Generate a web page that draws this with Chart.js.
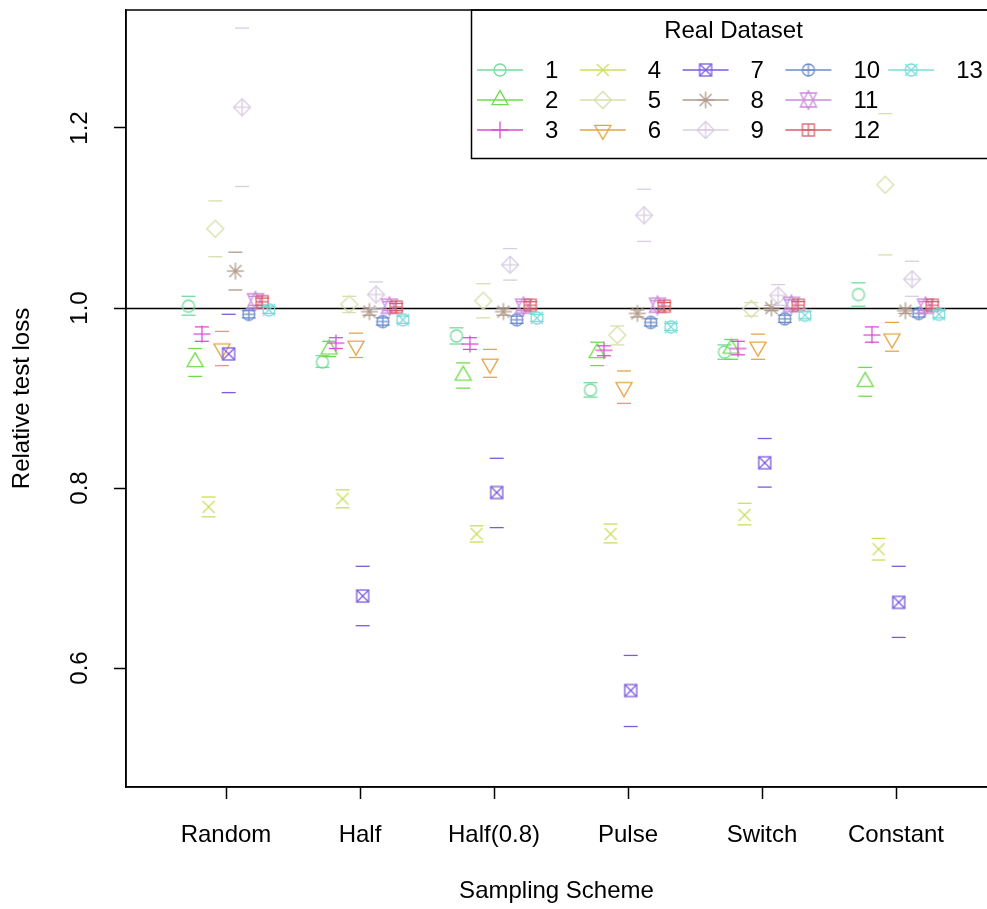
<!DOCTYPE html>
<html>
<head>
<meta charset="utf-8">
<script src="https://cdn.jsdelivr.net/npm/chart.js@4.4.1/dist/chart.umd.min.js"></script>
<style>
  html, body { margin: 0; padding: 0; background: #fff; }
</style>
</head>
<body>
<canvas id="chart" width="987" height="909"></canvas>
<script>
// ---------- data ----------
const schemes = ['Random', 'Half', 'Half(0.8)', 'Pulse', 'Switch', 'Constant'];
const datasetNames = ['1', '2', '3', '4', '5', '6', '7', '8', '9', '10', '11', '12', '13'];
const yTicks = [0.6, 0.8, 1.0, 1.2];
const refLine = 1.0;

// one row per real dataset, one column per sampling scheme
const lossMean = [
    [1.002, 0.940, 0.969, 0.909, 0.951, 1.015],
    [0.940, 0.954, 0.925, 0.950, 0.955, 0.918],
    [0.971, 0.961, 0.960, 0.953, 0.955, 0.970],
    [0.779, 0.788, 0.749, 0.749, 0.770, 0.732],
    [1.088, 1.004, 1.008, 0.970, 0.999, 1.137],
    [0.955, 0.958, 0.938, 0.912, 0.957, 0.966],
    [0.949, 0.680, 0.795, 0.575, 0.828, 0.673],
    [1.041, 0.996, 0.996, 0.994, 1.000, 0.997],
    [1.223, 1.015, 1.048, 1.103, 1.014, 1.032],
    [0.993, 0.985, 0.987, 0.984, 0.988, 0.994],
    [1.008, 1.002, 1.002, 1.003, 1.004, 1.002],
    [1.007, 1.001, 1.003, 1.002, 1.003, 1.003],
    [0.998, 0.987, 0.989, 0.979, 0.992, 0.993]
];
const lossLower = [
    [0.992, 0.934, 0.960, 0.901, 0.943, 1.002],
    [0.924, 0.946, 0.911, 0.936, 0.943, 0.902],
    [0.963, 0.955, 0.954, 0.947, 0.948, 0.962],
    [0.768, 0.778, 0.740, 0.739, 0.759, 0.720],
    [1.057, 0.995, 0.989, 0.959, 0.991, 1.059],
    [0.936, 0.945, 0.923, 0.894, 0.943, 0.952],
    [0.906, 0.647, 0.756, 0.535, 0.801, 0.634],
    [1.020, 0.992, 0.992, 0.990, 0.997, 0.994],
    [1.135, 1.000, 1.031, 1.074, 1.003, 1.013],
    [0.989, 0.981, 0.983, 0.980, 0.984, 0.990],
    [1.003, 0.997, 0.997, 0.998, 0.999, 0.997],
    [1.003, 0.997, 0.999, 0.998, 0.999, 0.999],
    [0.994, 0.983, 0.985, 0.975, 0.988, 0.989]
];
const lossUpper = [
    [1.013, 0.947, 0.978, 0.917, 0.959, 1.028],
    [0.955, 0.963, 0.939, 0.962, 0.965, 0.934],
    [0.979, 0.967, 0.967, 0.958, 0.963, 0.979],
    [0.790, 0.798, 0.758, 0.760, 0.783, 0.744],
    [1.119, 1.013, 1.027, 0.980, 1.006, 1.216],
    [0.974, 0.972, 0.954, 0.930, 0.971, 0.984],
    [0.993, 0.713, 0.833, 0.614, 0.855, 0.713],
    [1.062, 1.000, 1.000, 0.998, 1.003, 1.000],
    [1.311, 1.029, 1.066, 1.132, 1.026, 1.052],
    [0.997, 0.989, 0.991, 0.988, 0.992, 0.998],
    [1.013, 1.007, 1.007, 1.008, 1.009, 1.007],
    [1.011, 1.005, 1.007, 1.006, 1.007, 1.007],
    [1.002, 0.991, 0.993, 0.983, 0.996, 0.997]
];

const seriesColors = [
    '#74dc9c', '#6edd4c', '#d94fd2', '#cbdf5c', '#d8dfab', '#e6a445', '#7a5be0',
    '#b09a8b', '#d9cde2', '#6b8dcf', '#cb8bdb', '#dd5d6b', '#7bdcdc'
];
// R plotting symbols 1..13
const seriesPch = [1, 2, 3, 4, 5, 6, 7, 8, 9, 10, 11, 12, 13];

// ---------- layout constants ----------
const xMin = 0.2537, xMax = 6.679;
const yMin = 0.4678, yMax = 1.3311;
const seriesGap = 0.05;
const seriesShift = 0.02;
const fontFamily = '"Liberation Sans", Arial, Helvetica, sans-serif';

// draw an R style symbol into a small canvas for use as pointStyle
function makeMarker(pch, color) {
    const c = document.createElement('canvas');
    c.width = 26;
    c.height = 26;
    const g = c.getContext('2d');
    g.strokeStyle = color;
    g.lineWidth = 1.3;
    g.translate(13, 13);
    const r = 6;
    const d = r * Math.SQRT2;
    const tr = 1.5551 * r, tx = 1.3468 * r, ty = 0.7776 * r;

    const line = (x1, y1, x2, y2) => { g.beginPath(); g.moveTo(x1, y1); g.lineTo(x2, y2); g.stroke(); };
    const poly = (pts) => {
        g.beginPath();
        g.moveTo(pts[0][0], pts[0][1]);
        for (let i = 1; i < pts.length; i++) g.lineTo(pts[i][0], pts[i][1]);
        g.closePath();
        g.stroke();
    };
    const circle = (rad) => { g.beginPath(); g.arc(0, 0, rad, 0, Math.PI * 2); g.stroke(); };
    const square = () => g.strokeRect(-r, -r, 2 * r, 2 * r);
    const plus = (h) => { line(-h, 0, h, 0); line(0, -h, 0, h); };
    const cross = (h) => { line(-h, -h, h, h); line(-h, h, h, -h); };
    const diamond = () => poly([[0, -d], [d, 0], [0, d], [-d, 0]]);

    switch (pch) {
        case 1: circle(r); break;
        case 2: poly([[0, -tr], [tx, ty], [-tx, ty]]); break;
        case 3: plus(d); break;
        case 4: cross(r); break;
        case 5: diamond(); break;
        case 6: poly([[0, tr], [tx, -ty], [-tx, -ty]]); break;
        case 7: square(); cross(r); break;
        case 8: cross(r); plus(d); break;
        case 9: diamond(); plus(d); break;
        case 10: circle(r); plus(r); break;
        case 11: {
            const yc = 0.5 * (ty + tr);
            poly([[0, -tr], [tx, yc], [-tx, yc]]);
            poly([[0, tr], [tx, -yc], [-tx, -yc]]);
            break;
        }
        case 12: square(); plus(r); break;
        case 13: circle(r); cross(r); break;
    }
    return c;
}

const markers = seriesPch.map((p, i) => makeMarker(p, seriesColors[i]));

// build datasets: caps (pointStyle line) and the symbol for each series
const datasets = [];
datasetNames.forEach((name, i) => {
    const dx = (i - 6) * seriesGap + seriesShift;
    const caps = [];
    schemes.forEach((s, j) => {
        caps.push({ x: j + 1 + dx, y: lossLower[i][j] });
        caps.push({ x: j + 1 + dx, y: lossUpper[i][j] });
    });
    datasets.push({
        label: name + ' caps',
        data: caps,
        pointStyle: 'line',
        pointRadius: 7,
        borderColor: seriesColors[i],
        borderWidth: 1.3,
        order: 100 - i * 2
    });
    datasets.push({
        label: name,
        data: lossMean[i].map((v, j) => ({ x: j + 1 + dx, y: v })),
        pointStyle: markers[i],
        pointRadius: 6,
        borderColor: seriesColors[i],
        order: 99 - i * 2
    });
});

// horizontal line at 1 and the plot box (right side lies past the crop)
const framePlugin = {
    id: 'frame',
    beforeDatasetsDraw(chart) {
        const { ctx, chartArea } = chart;
        const y = Math.round(chart.scales.y.getPixelForValue(refLine)) + 0.5;
        ctx.save();
        ctx.strokeStyle = '#000';
        ctx.lineWidth = 1.5;
        ctx.beginPath();
        ctx.moveTo(chartArea.left, y);
        ctx.lineTo(chartArea.right, y);
        ctx.stroke();
        ctx.restore();
    },
    afterDraw(chart) {
        const { ctx, chartArea } = chart;
        ctx.save();
        ctx.strokeStyle = '#000';
        ctx.lineWidth = 1.5;
        ctx.strokeRect(chartArea.left, chartArea.top, chartArea.right - chartArea.left + 4, chartArea.bottom - chartArea.top);
        ctx.restore();
    }
};

// R style legend, filled column by column
const legendPlugin = {
    id: 'rLegend',
    afterDraw(chart) {
        const { ctx, chartArea } = chart;
        const left = 471.5, top = chartArea.top, bottom = 158.5;
        ctx.save();
        ctx.strokeStyle = '#000';
        ctx.lineWidth = 1.5;
        ctx.strokeRect(left, top, chartArea.right + 20 - left, bottom - top);

        ctx.fillStyle = '#000';
        ctx.font = '24px ' + fontFamily;
        ctx.textAlign = 'center';
        ctx.textBaseline = 'middle';
        ctx.fillText('Real Dataset', 733.5, 31);

        ctx.textAlign = 'left';
        datasetNames.forEach((name, i) => {
            const col = Math.floor(i / 3), row = i % 3;
            const x0 = 477 + col * 102.8;
            const y = 70 + row * 30;
            ctx.strokeStyle = seriesColors[i];
            ctx.lineWidth = 1.3;
            ctx.beginPath();
            ctx.moveTo(x0, y);
            ctx.lineTo(x0 + 46, y);
            ctx.stroke();
            const m = markers[i];
            ctx.drawImage(m, x0 + 23 - m.width / 2, y - m.height / 2);
            ctx.fillStyle = '#000';
            ctx.fillText(name, x0 + 68, y + 1);
        });
        ctx.restore();
    }
};

new Chart(document.getElementById('chart'), {
    type: 'scatter',
    data: { datasets: datasets },
    options: {
        responsive: false,
        animation: false,
        devicePixelRatio: 1,
        events: [],
        layout: { autoPadding: false, padding: { top: 10, right: 0, left: 0, bottom: 0 } },
        plugins: {
            legend: { display: false },
            tooltip: { enabled: false }
        },
        scales: {
            x: {
                type: 'linear',
                min: xMin,
                max: xMax,
                afterBuildTicks: (scale) => {
                    scale.ticks = schemes.map((s, i) => ({ value: i + 1 }));
                },
                afterFit: (scale) => {
                    scale.height = 122;
                    scale.paddingLeft = 0;
                    scale.paddingRight = 0;
                },
                ticks: {
                    autoSkip: false,
                    maxRotation: 0,
                    minRotation: 0,
                    padding: 22,
                    color: '#000',
                    font: { family: fontFamily, size: 24 },
                    callback: (v) => schemes[Math.round(v) - 1]
                },
                grid: { drawOnChartArea: false, drawTicks: true, tickLength: 12, tickColor: '#000', tickWidth: 1.5 },
                border: { display: true, color: '#000', width: 1.5 },
                title: {
                    display: true,
                    text: 'Sampling Scheme',
                    color: '#000',
                    font: { family: fontFamily, size: 24 },
                    padding: { top: 0, bottom: 3 }
                }
            },
            y: {
                type: 'linear',
                min: yMin,
                max: yMax,
                afterBuildTicks: (scale) => {
                    scale.ticks = yTicks.map(v => ({ value: v }));
                },
                afterFit: (scale) => {
                    scale.width = 126;
                    scale.paddingTop = 0;
                    scale.paddingBottom = 0;
                },
                ticks: {
                    minRotation: 90,
                    maxRotation: 90,
                    crossAlign: 'center',
                    padding: 17,
                    color: '#000',
                    font: { family: fontFamily, size: 24 },
                    callback: (v) => v.toFixed(1)
                },
                grid: { drawOnChartArea: false, drawTicks: true, tickLength: 12, tickColor: '#000', tickWidth: 1.5 },
                border: { display: true, color: '#000', width: 1.5 },
                title: {
                    display: true,
                    text: 'Relative test loss',
                    color: '#000',
                    font: { family: fontFamily, size: 24 },
                    padding: { top: 8, bottom: 0 }
                }
            }
        }
    },
    plugins: [framePlugin, legendPlugin]
});
</script>
</body>
</html>
